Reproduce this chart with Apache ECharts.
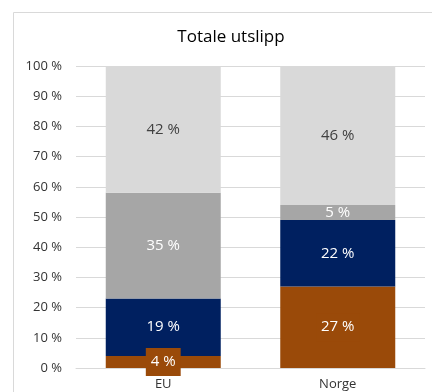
<!DOCTYPE html>
<html><head><meta charset="utf-8">
<script src="https://cdn.jsdelivr.net/npm/echarts@6/dist/echarts.min.js"></script>
<style>html,body{margin:0;padding:0;background:#fff}#c{width:432px;height:392px}</style>
</head><body><div id="c"></div>
<script>
var categories = ['EU', 'Norge'];
var seriesA = [4, 27];
var seriesB = [19, 22];
var seriesC = [35, 5];
var seriesD = [42, 46];
var yTicks = [0, 10, 20, 30, 40, 50, 60, 70, 80, 90, 100];

var font = '"Open Sans", "Noto Sans", sans-serif';
function lab(color, extra) {
  var o = {show: true, position: 'inside', color: color, fontSize: 15, fontFamily: font,
    formatter: function (p) { return p.value + ' %'; }};
  for (var k in extra) o[k] = extra[k];
  return o;
}
var chart = echarts.init(document.getElementById('c'));
chart.setOption({
  animation: false,
  title: {text: 'Totale utslipp', left: 226, top: 24, textAlign: 'center',
    textStyle: {fontSize: 17, fontWeight: 'normal', color: '#000', fontFamily: font}},
  graphic: [{type: 'rect', shape: {x: 13.5, y: 12.5, width: 440, height: 400},
    style: {fill: 'none', stroke: '#D9D9D9', lineWidth: 1}, z: -10}],
  grid: {left: 76, right: 7, top: 66, bottom: 24},
  xAxis: {type: 'category', data: categories,
    axisLine: {lineStyle: {color: '#D9D9D9'}}, axisTick: {show: false},
    axisLabel: {color: '#333', fontSize: 13, fontFamily: font, margin: 10}},
  yAxis: {type: 'value', min: 0, max: 100, interval: 10,
    axisLine: {show: false}, axisTick: {show: false},
    splitLine: {lineStyle: {color: '#D9D9D9'}},
    axisLabel: {color: '#333', fontSize: 13, fontFamily: font, margin: 14,
      formatter: function (v) { return yTicks.indexOf(v) >= 0 ? v + ' %' : ''; }}},
  series: [
    {type: 'bar', stack: 't', data: seriesA, barWidth: 115, itemStyle: {color: '#9A4A09'},
      label: lab('#fff', {backgroundColor: '#9A4A09', padding: [7, 5, 6, 5]})},
    {type: 'bar', stack: 't', data: seriesB, itemStyle: {color: '#002060'}, label: lab('#fff', {})},
    {type: 'bar', stack: 't', data: seriesC, itemStyle: {color: '#A6A6A6'}, label: lab('#fff', {})},
    {type: 'bar', stack: 't', data: seriesD, itemStyle: {color: '#D9D9D9'}, label: lab('#404040', {})}
  ]
});
</script></body></html>
